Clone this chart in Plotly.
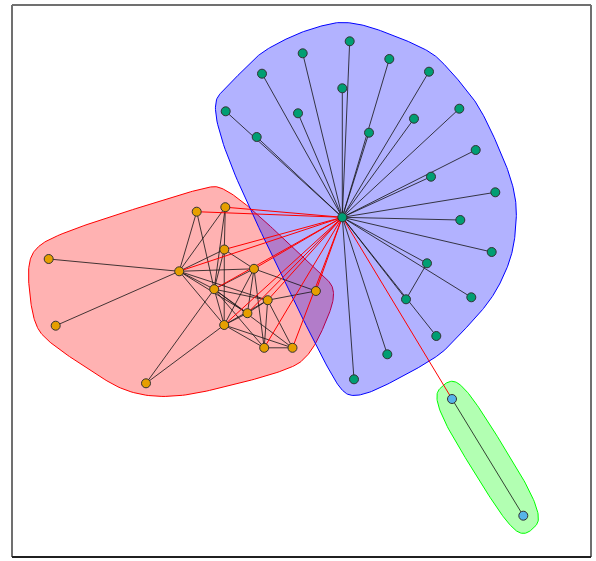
import numpy as np
import plotly.graph_objects as go

# ---- node positions (pixel-like units, y grows downward) ----
orange_ids = [f"O{i}" for i in range(1, 16)]
orange_x = [196.7, 225.3, 48.7, 224.3, 179.2, 254.0, 214.2, 315.9, 267.7, 247.4, 55.7, 224.2, 264.2, 292.5, 146.0]
orange_y = [211.7, 207.2, 259.0, 249.5, 271.3, 268.8, 289.2, 291.0, 300.2, 313.2, 325.7, 325.0, 347.8, 347.8, 383.3]

teal_ids = [f"T{i}" for i in range(0, 24)]
teal_x = [342.3, 349.7, 302.7, 389.3, 262.0, 429.0, 342.3, 225.7, 298.0, 459.3, 414.0, 256.7,
          369.0, 475.7, 431.0, 495.3, 460.3, 491.7, 427.0, 406.0, 471.3, 436.3, 387.3, 354.0]
teal_y = [217.3, 41.3, 53.3, 59.0, 73.7, 71.7, 88.3, 111.3, 113.3, 108.7, 118.7, 137.0,
          132.7, 150.0, 176.7, 192.3, 220.0, 252.0, 263.3, 299.3, 297.3, 336.0, 354.3, 379.3]

sky_ids = ["S1", "S2"]
sky_x = [452.0, 523.3]
sky_y = [399.0, 515.7]

# ---- edges ----
orange_edges = [
    ("O1", "O5"), ("O1", "O7"), ("O2", "O5"), ("O2", "O7"), ("O2", "O4"),
    ("O3", "O5"), ("O11", "O5"), ("O4", "O5"), ("O4", "O6"), ("O4", "O7"),
    ("O4", "O12"), ("O5", "O6"), ("O5", "O7"), ("O5", "O9"), ("O5", "O10"),
    ("O5", "O12"), ("O6", "O7"), ("O6", "O8"), ("O6", "O10"), ("O6", "O12"),
    ("O6", "O13"), ("O7", "O9"), ("O7", "O10"), ("O7", "O12"), ("O7", "O13"),
    ("O7", "O14"), ("O8", "O9"), ("O12", "O9"), ("O12", "O10"), ("O12", "O13"),
    ("O12", "O14"), ("O10", "O9"), ("O9", "O13"), ("O9", "O14"), ("O13", "O14"),
    ("O15", "O7"), ("O15", "O12"),
]
teal_edges = [("T0", f"T{i}") for i in range(1, 24)] + [("T18", "T19")]
sky_edges = [("S1", "S2")]
cross_edges = [("T0", o) for o in ["O1", "O2", "O4", "O5", "O6", "O7", "O8", "O9",
                                   "O10", "O12", "O13", "O14"]] + [("T0", "S1")]

# ---- group styling ----
groups = [
    dict(ids=orange_ids, x=orange_x, y=orange_y, node="#E69F00",
         fill="rgba(255,0,0,0.3)", border="#FF0000"),
    dict(ids=sky_ids, x=sky_x, y=sky_y, node="#56B4E9",
         fill="rgba(0,255,0,0.3)", border="#00FF00"),
    dict(ids=teal_ids, x=teal_x, y=teal_y, node="#009E73",
         fill="rgba(0,0,255,0.3)", border="#0000FF"),
]

pos = {}
for g in groups:
    for i, n in enumerate(g["ids"]):
        pos[n] = (g["x"][i], g["y"][i])

all_x = np.array([p[0] for p in pos.values()])
all_y = np.array([p[1] for p in pos.values()])
unit = max(all_x.max() - all_x.min(), all_y.max() - all_y.min()) / 2.0
VERTEX_SIZE = 4
MARK_EXPAND = 15
reach = (VERTEX_SIZE + MARK_EXPAND) / 200.0 * unit


def convex_hull(pts):
    pts = sorted(set(pts))
    if len(pts) <= 2:
        return pts

    def cross(o, a, b):
        return (a[0] - o[0]) * (b[1] - o[1]) - (a[1] - o[1]) * (b[0] - o[0])

    lower, upper = [], []
    for p in pts:
        while len(lower) >= 2 and cross(lower[-2], lower[-1], p) <= 0:
            lower.pop()
        lower.append(p)
    for p in reversed(pts):
        while len(upper) >= 2 and cross(upper[-2], upper[-1], p) <= 0:
            upper.pop()
        upper.append(p)
    return lower[:-1] + upper[:-1]


def f_blend(num, den):
    p = 2 * den * den
    u = num / den
    u2 = u * u
    return u * u2 * (10 - p + (2 * p - 15) * u + (6 - p) * u2)


def closed_xspline(ctrl, shape=0.5, steps=40):
    ctrl = np.asarray(ctrl, dtype=float)
    n = len(ctrl)
    s = shape
    out = []
    for k in range(n):
        p0, p1, p2, p3 = (ctrl[(k + i) % n] for i in range(4))
        for t in np.linspace(0, 1, steps, endpoint=False):
            a0 = f_blend(t - s, -1 - s) if t < s else 0.0
            a2 = f_blend(t + s, 1 + s)
            a1 = f_blend(t - 1 - s, -1 - s)
            a3 = f_blend(t - 1 + s, 1 + s) if t > 1 - s else 0.0
            w = a0 + a1 + a2 + a3
            out.append((a0 * p0 + a1 * p1 + a2 * p2 + a3 * p3) / w)
    out.append(out[0])
    return np.array(out)


fig = go.Figure()

# group marks (smoothed, expanded convex hulls)
for g in groups:
    pts = []
    for x, y in zip(g["x"], g["y"]):
        pts += [(x, y), (x - reach, y), (x + reach, y), (x, y - reach), (x, y + reach)]
    hull = convex_hull(pts)
    curve = closed_xspline(hull)
    fig.add_trace(go.Scatter(
        x=curve[:, 0], y=curve[:, 1], mode="lines", fill="toself",
        fillcolor=g["fill"], line=dict(color=g["border"], width=1),
        hoverinfo="skip", showlegend=False))


def edge_xy(edges):
    xs, ys = [], []
    for a, b in edges:
        xs += [pos[a][0], pos[b][0], None]
        ys += [pos[a][1], pos[b][1], None]
    return xs, ys


ex, ey = edge_xy(orange_edges + teal_edges + sky_edges)
fig.add_trace(go.Scatter(x=ex, y=ey, mode="lines",
                         line=dict(color="rgba(20,20,20,0.8)", width=1),
                         hoverinfo="skip", showlegend=False))
cx, cy = edge_xy(cross_edges)
fig.add_trace(go.Scatter(x=cx, y=cy, mode="lines",
                         line=dict(color="#FF0000", width=1),
                         hoverinfo="skip", showlegend=False))

for g in groups:
    fig.add_trace(go.Scatter(
        x=g["x"], y=g["y"], mode="markers",
        marker=dict(size=9, color=g["node"], line=dict(color="#333333", width=1)),
        hoverinfo="skip", showlegend=False))

# surrounding frame
frame = dict(xref="paper", yref="paper", type="line")
fig.add_shape(**frame, x0=12 / 596, x1=591 / 596, y0=1 - 5 / 561, y1=1 - 5 / 561,
              line=dict(color="#707070", width=2))
fig.add_shape(**frame, x0=12 / 596, x1=12 / 596, y0=1 - 5 / 561, y1=1 - 557 / 561,
              line=dict(color="#707070", width=2))
fig.add_shape(**frame, x0=591 / 596, x1=591 / 596, y0=1 - 5 / 561, y1=1 - 557 / 561,
              line=dict(color="#707070", width=2))
fig.add_shape(**frame, x0=12 / 596, x1=591 / 596, y0=1 - 557 / 561, y1=1 - 557 / 561,
              line=dict(color="#202020", width=2))

fig.update_layout(
    width=596, height=561, margin=dict(l=0, r=0, t=0, b=0),
    paper_bgcolor="white", plot_bgcolor="white",
    xaxis=dict(range=[0, 596], visible=False, fixedrange=True),
    yaxis=dict(range=[561, 0], visible=False, fixedrange=True),
)

fig.write_html("out.html")
